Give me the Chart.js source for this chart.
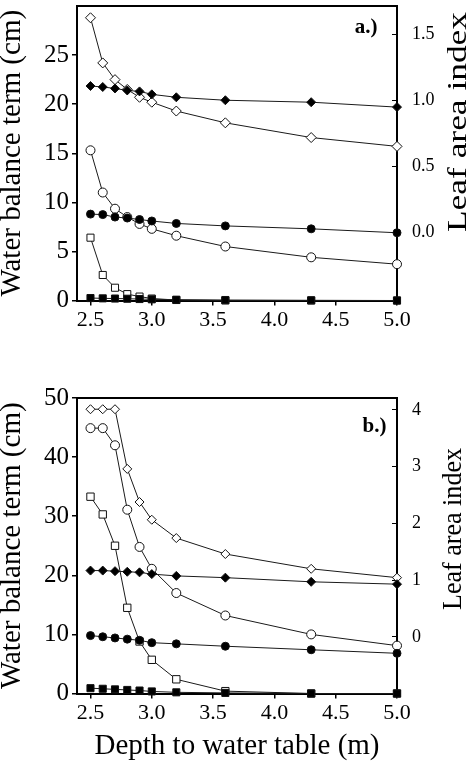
<!DOCTYPE html>
<html>
<head>
<meta charset="utf-8">
<script src="https://cdn.jsdelivr.net/npm/chart.js@4/dist/chart.umd.min.js"></script>
<style>
  body { margin: 0; background: #fff; }
  .panel { position: absolute; left: 0; }
</style>
</head>
<body>
<div class="panel" style="top:0"><canvas id="chartA" width="475" height="345"></canvas></div>
<div class="panel" style="top:345px"><canvas id="chartB" width="475" height="416"></canvas></div>
<script>
const depth = [2.5, 2.6, 2.7, 2.8, 2.9, 3.0, 3.2, 3.6, 4.3, 5.0];
const depthTicks = [2.5, 3.0, 3.5, 4.0, 4.5, 5.0];

// panel a.)
const aOpenDiamond = [28.8, 24.2, 22.5, 21.5, 20.7, 20.2, 19.3, 18.1, 16.6, 15.7];
const aFilledDiamond = [21.85, 21.75, 21.6, 21.4, 21.3, 21.0, 20.7, 20.4, 20.2, 19.7];
const aOpenCircle = [15.3, 11.0, 9.35, 8.5, 7.8, 7.3, 6.6, 5.5, 4.4, 3.7];
const aFilledCircle = [8.8, 8.75, 8.5, 8.4, 8.25, 8.1, 7.85, 7.6, 7.3, 6.9];
const aOpenSquare = [6.4, 2.6, 1.3, 0.65, 0.4, 0.2, 0.05, 0, 0, 0];
const aFilledSquare = [0.25, 0.22, 0.2, 0.18, 0.15, 0.12, 0.08, 0.05, 0.02, 0];
const aLeftTicks = [0, 5, 10, 15, 20, 25];
const aRightTicks = [0, 0.5, 1.0, 1.5];

// panel b.)
const bOpenDiamond = [48.1, 48.1, 48.1, 38.0, 32.4, 29.4, 26.3, 23.6, 21.1, 19.6];
const bFilledDiamond = [20.8, 20.8, 20.7, 20.6, 20.5, 20.2, 19.9, 19.6, 18.9, 18.5];
const bOpenCircle = [44.9, 44.9, 42.0, 31.1, 24.8, 21.1, 17.0, 13.2, 10.0, 8.1];
const bFilledCircle = [9.8, 9.6, 9.4, 9.2, 9.0, 8.6, 8.4, 8.0, 7.4, 6.8];
const bOpenSquare = [33.3, 30.3, 25.0, 14.5, 8.8, 5.7, 2.4, 0.4, 0, 0];
const bFilledSquare = [0.9, 0.8, 0.7, 0.6, 0.5, 0.35, 0.2, 0.1, 0, 0];
const bLeftTicks = [0, 10, 20, 30, 40, 50];
const bRightTicks = [0, 1, 2, 3, 4];

const SERIF = '"Liberation Serif", "DejaVu Serif", serif';

function series(values, style, filled, radius) {
  return {
    data: values.map((v, i) => ({ x: depth[i], y: v })),
    pointStyle: style,
    pointRadius: radius,
    pointBackgroundColor: filled ? '#000' : '#fff',
    pointBorderColor: '#111',
    pointBorderWidth: 1,
    borderColor: '#1a1a1a',
    borderWidth: 1,
    clip: false,
    yAxisID: 'y'
  };
}

// no auto padding from tick labels, the plot box is placed by hand
function noPad(s) {
  s.paddingTop = 0;
  s.paddingBottom = 0;
  s.paddingLeft = 0;
  s.paddingRight = 0;
}

// top edge of the frame, right title, panel letter
const framePlugin = {
  id: 'frame',
  afterDraw(chart, args, opts) {
    const { ctx, chartArea: a } = chart;
    ctx.save();
    ctx.strokeStyle = '#000';
    ctx.lineWidth = 2;
    ctx.beginPath();
    ctx.moveTo(a.left - 1, a.top);
    ctx.lineTo(a.right + 1, a.top);
    ctx.stroke();

    ctx.fillStyle = '#000';
    ctx.font = 'bold 21px ' + SERIF;
    ctx.textAlign = 'center';
    ctx.textBaseline = 'middle';
    ctx.fillText(opts.label, a.right + opts.labelDx, a.top + opts.labelDy);

    ctx.font = '28px ' + SERIF;
    const w = ctx.measureText('Leaf area index').width;
    ctx.translate(opts.titleX, opts.titleY);
    ctx.rotate(-Math.PI / 2);
    ctx.scale(opts.titleLen / w, 1);
    ctx.fillText('Leaf area index', 0, 0);
    ctx.restore();
  }
};

function makePanel(id, cfg) {
  return new Chart(document.getElementById(id), {
    type: 'line',
    data: { datasets: cfg.datasets },
    plugins: [framePlugin],
    options: {
      responsive: false,
      animation: false,
      layout: { padding: { top: cfg.padTop, left: 0, right: 0, bottom: 0 } },
      plugins: {
        legend: { display: false },
        tooltip: { enabled: false },
        frame: cfg.frame
      },
      scales: {
        x: {
          type: 'linear',
          min: 2.39,
          max: 5.0,
          afterBuildTicks: s => { s.ticks = depthTicks.map(v => ({ value: v })); },
          afterFit: s => { s.height = cfg.xHeight; noPad(s); },
          border: { color: '#000', width: 2 },
          grid: { drawOnChartArea: false, tickLength: 5, color: '#000', lineWidth: 1.5 },
          ticks: {
            color: '#000', padding: 2, maxRotation: 0,
            font: { family: SERIF, size: 22 },
            callback: v => v.toFixed(1)
          },
          title: {
            display: cfg.xTitle,
            text: 'Depth to water table (m)',
            color: '#000',
            font: { family: SERIF, size: 29, lineHeight: 1 },
            padding: 0
          }
        },
        y: {
          position: 'left',
          min: 0,
          max: cfg.leftMax,
          afterBuildTicks: s => { s.ticks = cfg.leftTicks.map(v => ({ value: v })); },
          afterFit: s => { s.width = 77; noPad(s); },
          border: { color: '#000', width: 2 },
          grid: { drawOnChartArea: false, tickLength: 5, color: '#000', lineWidth: 1.5 },
          ticks: { color: '#000', padding: 3, font: { family: SERIF, size: 25 } },
          title: {
            display: true,
            text: 'Water balance term (cm)',
            color: '#000',
            font: { family: SERIF, size: 29, lineHeight: 1 },
            padding: { top: -2, bottom: 0 }
          }
        },
        y2: {
          position: 'right',
          min: cfg.rightMin,
          max: cfg.rightMax,
          afterBuildTicks: s => { s.ticks = cfg.rightTicks.map(v => ({ value: v })); },
          afterFit: s => { s.width = 78; noPad(s); },
          border: { color: '#000', width: 2 },
          grid: { drawOnChartArea: false, tickLength: -5, color: '#000', lineWidth: 1 },
          ticks: {
            color: '#000', padding: 20, font: { family: SERIF, size: 18 },
            callback: cfg.rightFormat
          }
        }
      }
    }
  });
}

makePanel('chartA', {
  datasets: [
    series(aFilledDiamond, 'rectRot', true, 4.5),
    series(aFilledCircle, 'circle', true, 4),
    series(aFilledSquare, 'rect', true, 5),
    series(aOpenDiamond, 'rectRot', false, 5),
    series(aOpenCircle, 'circle', false, 4.5),
    series(aOpenSquare, 'rect', false, 5)
  ],
  padTop: 4.5, xHeight: 44.5, xTitle: false,
  leftMax: 30, leftTicks: aLeftTicks,
  rightMin: -0.513, rightMax: 1.716, rightTicks: aRightTicks,
  rightFormat: v => v.toFixed(1),
  frame: { label: 'a.)', labelDx: -31, labelDy: 22, titleX: 459, titleY: 122, titleLen: 220 }
});

makePanel('chartB', {
  datasets: [
    series(bFilledDiamond, 'rectRot', true, 4.5),
    series(bFilledCircle, 'circle', true, 4),
    series(bFilledSquare, 'rect', true, 5),
    series(bOpenDiamond, 'rectRot', false, 4.5),
    series(bOpenCircle, 'circle', false, 4.5),
    series(bOpenSquare, 'rect', false, 5.2)
  ],
  padTop: 53, xHeight: 67.5, xTitle: true,
  leftMax: 50, leftTicks: bLeftTicks,
  rightMin: -1.0, rightMax: 4.21, rightTicks: bRightTicks,
  rightFormat: v => String(v),
  frame: { label: 'b.)', labelDx: -22.5, labelDy: 28.5, titleX: 454, titleY: 184, titleLen: 162 }
});
</script>
</body>
</html>
